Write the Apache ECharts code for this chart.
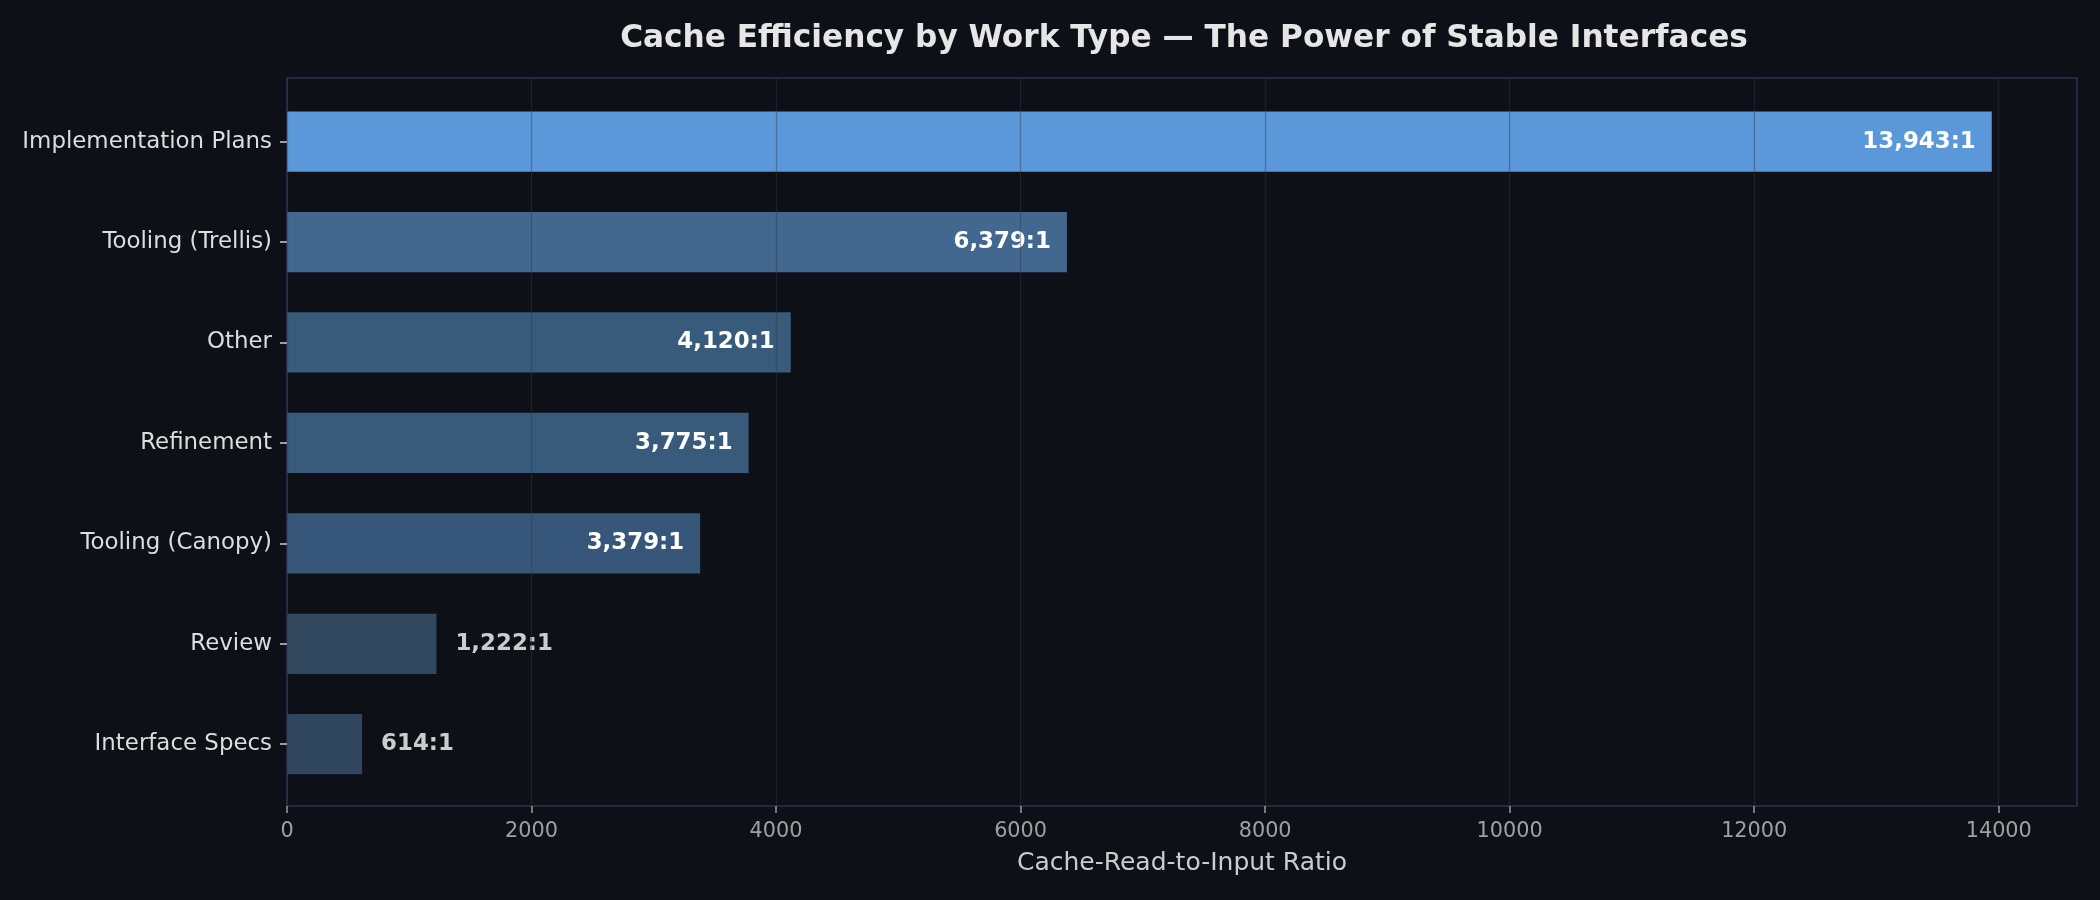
<!DOCTYPE html>
<html>
<head>
<meta charset="utf-8">
<script src="https://cdn.jsdelivr.net/npm/echarts@6/dist/echarts.min.js"></script>
<style>
  html, body { margin: 0; padding: 0; background: #0d1017; }
  #chart { width: 2100px; height: 900px; }
</style>
</head>
<body>
<div id="chart"></div>
<script>
const categories = ['Implementation Plans', 'Tooling (Trellis)', 'Other', 'Refinement', 'Tooling (Canopy)', 'Review', 'Interface Specs'];
const ratios = [13943, 6379, 4120, 3775, 3379, 1222, 614];
const barColors = ['#5b98da', '#436890', '#385a7b', '#385a7b', '#37577a', '#32485f', '#30465e'];
const xTicks = [0, 2000, 4000, 6000, 8000, 10000, 12000, 14000];
const xMax = 14640;

const FONT = 'DejaVu Sans';
const chart = echarts.init(document.getElementById('chart'), null, { renderer: 'canvas' });

const gridFrame = { left: 287, right: 23, top: 78, bottom: 94 };
const gridBars = { left: 287, right: 23, top: 91.4, bottom: 105.6 };
const plotCenter = gridFrame.left + (2100 - gridFrame.left - gridFrame.right) / 2;

const seriesData = ratios.map((v, i) => {
  const inside = v > xMax * 0.15;
  return {
    value: v,
    itemStyle: { color: barColors[i] },
    label: inside
      ? { position: 'insideRight', distance: 16, color: '#ffffff' }
      : { position: 'right', distance: 19, color: '#cccccc' }
  };
});

chart.setOption({
  backgroundColor: '#0d1017',
  animation: false,
  title: {
    text: 'Cache Efficiency by Work Type — The Power of Stable Interfaces',
    left: plotCenter - 3,
    textAlign: 'center',
    top: 18,
    textStyle: { color: '#e6e6e6', fontFamily: FONT, fontWeight: 'bold', fontSize: 31.2 }
  },
  grid: [
    Object.assign({ show: true, borderColor: '#2e3050', borderWidth: 1.5, backgroundColor: 'transparent' }, gridFrame),
    Object.assign({ show: false }, gridBars)
  ],
  xAxis: [
    {
      type: 'value', gridIndex: 0, min: 0, max: xMax, interval: 2000, z: 5,
      name: 'Cache-Read-to-Input Ratio', nameLocation: 'middle', nameGap: 45,
      nameTextStyle: { color: '#cccccc', fontFamily: FONT, fontSize: 25 },
      axisLine: { show: false },
      axisTick: { show: true, length: 7, lineStyle: { color: '#999999', width: 1.5 }, customValues: xTicks },
      axisLabel: { color: '#a0a0a0', fontFamily: FONT, fontSize: 20.8, margin: 15, customValues: xTicks, formatter: v => String(v) },
      splitLine: { show: true, lineStyle: { color: 'rgba(50,56,74,0.42)', width: 1.3 } }
    },
    {
      type: 'value', gridIndex: 1, min: 0, max: xMax, show: false,
      splitLine: { show: false }
    }
  ],
  yAxis: [
    { type: 'value', gridIndex: 0, min: 0, max: 1, show: false, splitLine: { show: false } },
    {
      type: 'category', gridIndex: 1, data: categories, inverse: true,
      axisLine: { show: false },
      axisTick: { show: true, length: 7, alignWithLabel: true, lineStyle: { color: '#cccccc', width: 1.5 } },
      axisLabel: { color: '#dddddd', fontFamily: FONT, fontSize: 22.9, margin: 15 },
      splitLine: { show: false }
    }
  ],
  series: [
    {
      type: 'bar', xAxisIndex: 1, yAxisIndex: 1,
      barWidth: '60%',
      data: seriesData,
      label: {
        show: true,
        fontFamily: FONT, fontWeight: 'bold', fontSize: 22.9,
        formatter: p => p.value.toLocaleString('en-US') + ':1'
      }
    }
  ]
});
</script>
</body>
</html>
